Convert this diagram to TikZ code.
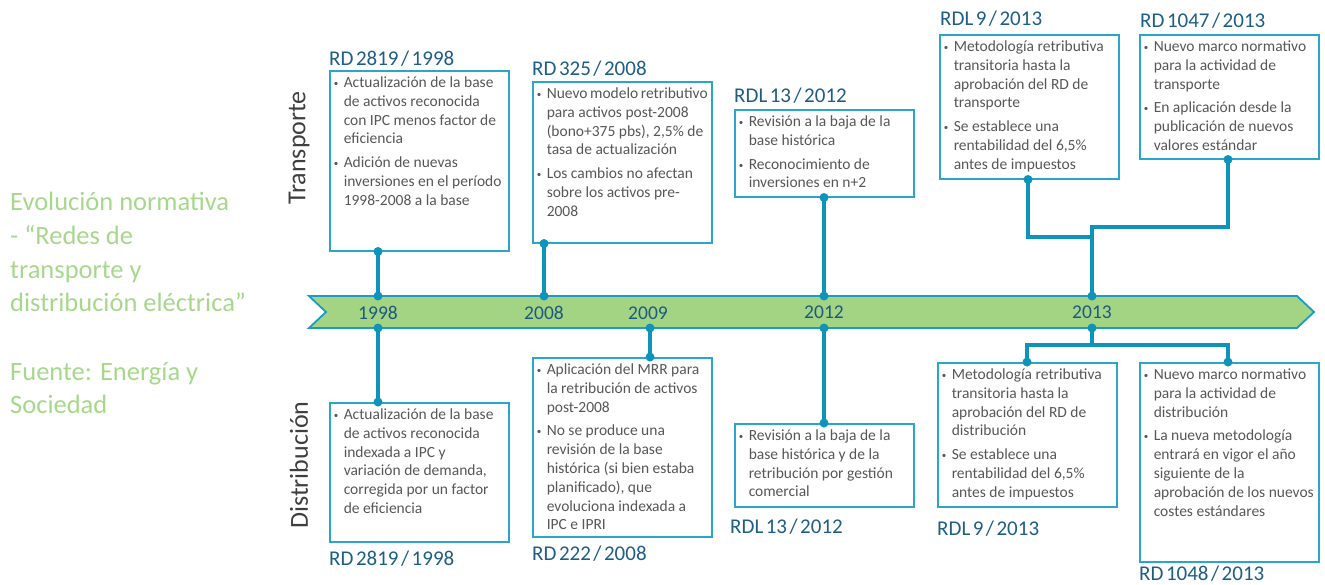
\documentclass[tikz,border=0pt]{standalone}
\usepackage{fontspec}
\setmainfont{Carlito}
\usetikzlibrary{calc}
\definecolor{greenf}{HTML}{A3D483}
\definecolor{arrowc}{HTML}{1B9CC4}
\definecolor{connc}{HTML}{0E93BA}
\definecolor{boxc}{HTML}{2BA6CB}
\definecolor{titlec}{HTML}{1E5D85}
\definecolor{yearc}{HTML}{1B5A80}
\definecolor{bodyc}{HTML}{575757}
\definecolor{sidec}{HTML}{3F3F3F}
\definecolor{leftc}{HTML}{A6D88C}
\newcommand\bul[1]{\par\hangindent=10pt\hangafter=1\noindent\makebox[10pt][l]{\raisebox{1pt}{\fontsize{9}{9}\selectfont\textbullet}}#1\par}
\newcommand\bsep{\vspace{5pt}}
\newcommand\tsp{\hspace{2.5pt}}
\newcommand\mybox[5]{% name, x, y, height, content
  \node[infobox, minimum height=#4] (#1) at (#2,#3)
    {\parbox[c][#4pt][t]{171pt}{\fontsize{15.5}{18.8}\selectfont\color{bodyc}\vspace*{6pt}#5}};}
\begin{document}
\begin{tikzpicture}[x=1pt,y=-1pt,
  infobox/.style={draw=boxc, line width=1.5pt, anchor=north west, inner sep=0pt, minimum width=179pt, fill=white},
  conn/.style={draw=connc, line width=3.5pt},
  dotc/.style={fill=connc},
  titletext/.style={anchor=base west, inner sep=0pt, text=titlec, font=\fontsize{21}{21}\selectfont},
  yeartext/.style={anchor=base, inner sep=0pt, text=yearc, font=\fontsize{19.5}{19.5}\selectfont},
  lefttext/.style={anchor=base west, inner sep=0pt, text=leftc, font=\fontsize{26.5}{26.5}\selectfont},
  sidetext/.style={inner sep=0pt, text=sidec, font=\fontsize{26}{26}\selectfont, rotate=90}]
\useasboundingbox (0,0) rectangle (1325,584);

% left description
\node[lefttext] (desc1) at (10,210) {Evolución normativa};
\node[lefttext] (desc2) at (10,244) {- “Redes de};
\node[lefttext] (desc3) at (10,278) {transporte y};
\node[lefttext] (desc4) at (10,311) {distribución eléctrica”};
\node[lefttext] (src1) at (10,380) {Fuente: Energía y};
\node[lefttext] (src2) at (10,413) {Sociedad};

% side labels
\node[sidetext] (trans) at (299,148) {Transporte};
\node[sidetext] (distr) at (299,465) {Distribución};

% timeline arrow
\path[draw=arrowc, fill=greenf, line width=1.8pt] (309,296) -- (1297,296) -- (1314,312) -- (1297,328) -- (309,328) -- (326,312) -- cycle;

% year labels
\node[yeartext] (y1998) at (378,319) {1998};
\node[yeartext] (y2008) at (544,319) {2008};
\node[yeartext] (y2009) at (648,319) {2009};
\node[yeartext] (y2012) at (824,318) {2012};
\node[yeartext] (y2013) at (1092,318) {2013};

% coordinates on arrow
\coordinate (a1998t) at (378,296); \coordinate (a1998b) at (378,328);
\coordinate (a2008t) at (544,296);
\coordinate (a2009b) at (650,328);
\coordinate (a2012t) at (824,296); \coordinate (a2012b) at (824,328);
\coordinate (a2013t) at (1092,296); \coordinate (a2013b) at (1092,328);

% transport boxes
\mybox{T1}{329}{70}{180}{%
\bul{Actualización de la base\\de activos reconocida\\con IPC menos factor de\\eficiencia}\bsep
\bul{Adición de nuevas\\inversiones en el período\\1998-2008 a la base}}
\mybox{T2}{532}{81}{161}{%
\bul{Nuevo modelo retributivo\\para activos post-2008\\(bono+375 pbs), 2,5\% de\\tasa de actualización}\bsep
\bul{Los cambios no afectan\\sobre los activos pre-\\2008}}
\mybox{T3}{734}{109}{87}{%
\bul{Revisión a la baja de la\\base histórica}\bsep
\bul{Reconocimiento de\\inversiones en n+2}}
\mybox{T4}{939}{34}{144}{%
\bul{Metodología retributiva\\transitoria hasta la\\aprobación del RD de\\transporte}\bsep
\bul{Se establece una\\rentabilidad del 6,5\%\\antes de impuestos}}
\mybox{T5}{1139}{34}{124}{%
\bul{Nuevo marco normativo\\para la actividad de\\transporte}\bsep
\bul{En aplicación desde la\\publicación de nuevos\\valores estándar}}

% distribution boxes
\mybox{D1}{329}{402}{139}{%
\bul{Actualización de la base\\de activos reconocida\\indexada a IPC y\\variación de demanda,\\corregida por un factor\\de eficiencia}}
\mybox{D2}{532}{357}{179}{%
\bul{Aplicación del MRR para\\la retribución de activos\\post-2008}\bsep
\bul{No se produce una\\revisión de la base\\histórica (si bien estaba\\planificado), que\\evoluciona indexada a\\IPC e IPRI}}
\mybox{D3}{734}{423}{83}{%
\bul{Revisión a la baja de la\\base histórica y de la\\retribución por gestión\\comercial}}
\mybox{D4}{937}{362}{144}{%
\bul{Metodología retributiva\\transitoria hasta la\\aprobación del RD de\\distribución}\bsep
\bul{Se establece una\\rentabilidad del 6,5\%\\antes de impuestos}}
\mybox{D5}{1139}{362}{199}{%
\bul{Nuevo marco normativo\\para la actividad de\\distribución}\bsep
\bul{La nueva metodología\\entrará en vigor el año\\siguiente de la\\aprobación de los nuevos\\costes estándares}}

% titles
\node[titletext] (tT1) at (329,65) {RD\tsp2819\tsp/\tsp1998};
\node[titletext] (tT2) at (532,75) {RD\tsp325\tsp/\tsp2008};
\node[titletext] (tT3) at (734,102) {RDL\tsp13\tsp/\tsp2012};
\node[titletext] (tT4) at (940,25) {RDL\tsp9\tsp/\tsp2013};
\node[titletext] (tT5) at (1140,27) {RD\tsp1047\tsp/\tsp2013};
\node[titletext] (tD1) at (329,565) {RD\tsp2819\tsp/\tsp1998};
\node[titletext] (tD2) at (532,560) {RD\tsp222\tsp/\tsp2008};
\node[titletext] (tD3) at (730,533) {RDL\tsp13\tsp/\tsp2012};
\node[titletext] (tD4) at (937,535) {RDL\tsp9\tsp/\tsp2013};
\node[titletext] (tD5) at (1139,580) {RD\tsp1048\tsp/\tsp2013};

% junction coordinates
\coordinate (k4) at (1028,237); \coordinate (j4) at (1092,237);
\coordinate (k5) at (1228,227); \coordinate (j5) at (1092,227);
\coordinate (j6) at (1092,345);
\coordinate (k6) at (1027,345); \coordinate (k7) at (1228,345);

% connectors
\draw[conn] (T1.south -| a1998t) -- (a1998t);
\draw[conn] (T2.south -| a2008t) -- (a2008t);
\draw[conn] (T3.south -| a2012t) -- (a2012t);
\draw[conn] (T4.south -| k4) -- (k4) -- (j4);
\draw[conn] (T5.south -| k5) -- (k5) -- (j5) -- (a2013t);
\draw[conn] (a1998b) -- (D1.north -| a1998b);
\draw[conn] (a2009b) -- (D2.north -| a2009b);
\draw[conn] (a2012b) -- (D3.north -| a2012b);
\draw[conn] (a2013b) -- (j6);
\draw[conn] (D4.north -| k6) -- (k6) -- (k7) -- (D5.north -| k7);

% dots
\foreach \p in {a1998t,a1998b,a2008t,a2009b,a2012t,a2012b,a2013t,a2013b}
  \fill[dotc] (\p) circle (4.5);
\fill[dotc] (T1.south -| a1998t) circle (4.5);
\fill[dotc] (T2.south -| a2008t) circle (4.5);
\fill[dotc] (T3.south -| a2012t) circle (4.5);
\fill[dotc] (T4.south -| k4) circle (4.5);
\fill[dotc] (T5.south -| k5) circle (4.5);
\fill[dotc] (D1.north -| a1998b) circle (4.5);
\fill[dotc] (D2.north -| a2009b) circle (4.5);
\fill[dotc] (D3.north -| a2012b) circle (4.5);
\fill[dotc] (D4.north -| k6) circle (4.5);
\fill[dotc] (D5.north -| k7) circle (4.5);
\end{tikzpicture}
\end{document}
